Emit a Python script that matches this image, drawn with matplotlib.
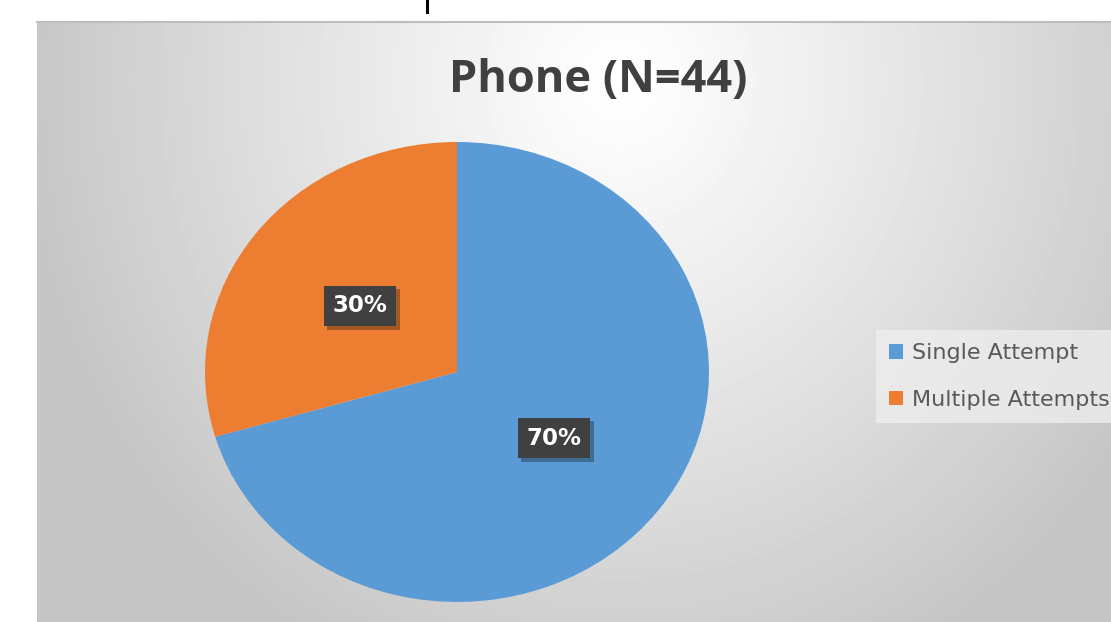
import numpy as np
import matplotlib
matplotlib.use("Agg")
import matplotlib.pyplot as plt
import matplotlib.patheffects as pe
from matplotlib.lines import Line2D

# ---- data ----
categories = ["Single Attempt", "Multiple Attempts"]
counts = [31, 13]
pct_labels = ["70%", "30%"]
title = "Phone (N=44)"
colors = ["#5B9BD5", "#ED7D31"]

W, H = 1111, 622
fig = plt.figure(figsize=(W / 100, H / 100), dpi=100)
fig.patch.set_facecolor("white")

# ---- background (radial gray gradient inside chart area) ----
x0, y0 = 37, 22
bg = fig.add_axes([x0 / W, 0, (W - x0) / W, (H - y0) / H])
bg.set_axis_off()
xs = np.arange(x0, W)
ys = np.arange(y0, H)
X, Y = np.meshgrid(xs, ys)
d = np.sqrt(((X - 620) / 600.0) ** 2 + ((Y - 80) / 650.0) ** 2)
v = 1.0 - 0.225 * np.clip(d, 0, 1) ** 1.1
bg.imshow(v, cmap="gray", vmin=0, vmax=1, aspect="auto", interpolation="bilinear")
fig.add_artist(Line2D([x0 / W, 1], [1 - y0 / H, 1 - y0 / H], color="#bdbdbd", lw=1.5))
fig.add_artist(Line2D([427 / W, 427 / W], [1.0, 1 - 12 / H], color="black", lw=2.2))

# ---- pie (slightly stretched horizontally, as in the reference) ----
cx, cy, RX, RY = 457, 372, 252, 230
ax = fig.add_axes([(cx - RX) / W, (H - cy - RY) / H, 2 * RX / W, 2 * RY / H])
wedges, _ = ax.pie(counts, colors=colors, startangle=90, counterclock=False,
                   radius=1.0, wedgeprops=dict(linewidth=0))
ax.set_aspect("auto")
ax.set_xlim(-1, 1)
ax.set_ylim(-1, 1)
ax.set_axis_off()

for w, lab in zip(wedges, pct_labels):
    th1, th2 = w.theta1, w.theta2
    mid = np.deg2rad((th1 + th2) / 2)
    r = 0.48
    t = ax.text(r * np.cos(mid), r * np.sin(mid), lab, ha="center", va="center",
                color="white", fontsize=16.5, fontweight="bold", family="DejaVu Sans",
                bbox=dict(boxstyle="square,pad=0.38", facecolor="#404040", edgecolor="none"))
    t.get_bbox_patch().set_path_effects([
        pe.SimplePatchShadow(offset=(2.5, -2.5), shadow_rgbFace="black", alpha=0.3),
        pe.Normal()])

# ---- title ----
fig.text(598.5 / W, 1 - 92 / H, title, ha="center", va="baseline", fontsize=32.5,
         fontweight="bold", family="Open Sans", color="#404040")

# ---- legend ----
leg = fig.legend(wedges, categories, loc="upper left",
                 bbox_to_anchor=(876 / W, 1 - 330 / H),
                 prop=dict(family="DejaVu Sans", size=16),
                 handlelength=0.6, handleheight=0.6, handletextpad=0.4,
                 labelspacing=1.2, borderpad=0.6, borderaxespad=0,
                 frameon=True, fancybox=False)
leg.get_frame().set_facecolor("#efefef")
leg.get_frame().set_alpha(0.75)
leg.get_frame().set_edgecolor("none")
for txt in leg.get_texts():
    txt.set_color("#595959")

fig.savefig("out.png", dpi=100, facecolor=fig.get_facecolor())
